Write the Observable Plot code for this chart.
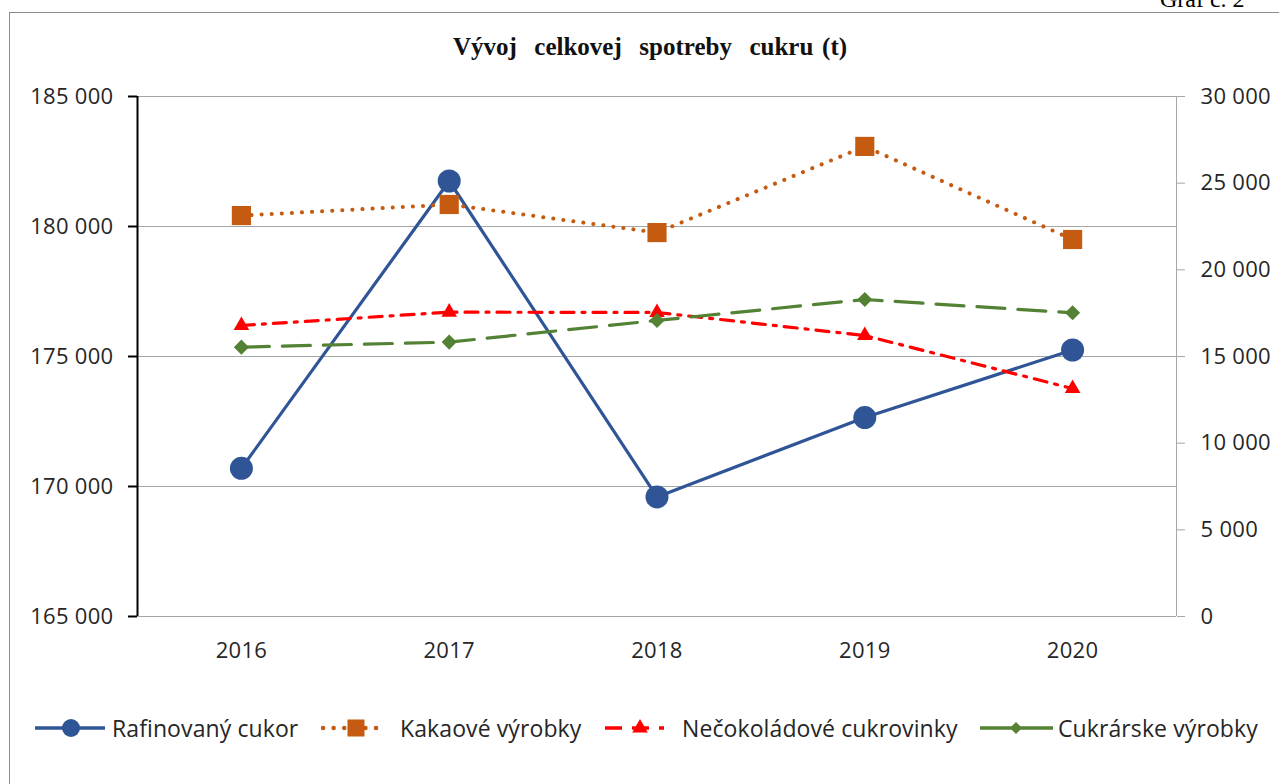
<!DOCTYPE html>
<html>
<head>
<meta charset="utf-8">
<script src="https://cdn.jsdelivr.net/npm/d3@7"></script>
<script src="https://cdn.jsdelivr.net/npm/@observablehq/plot@0.6"></script>
<style>
  html, body { margin: 0; padding: 0; width: 1279px; height: 784px; overflow: hidden; background: #fff; }
  #frame { position: absolute; left: 9px; top: 12px; width: 1400px; height: 900px; border: 1px solid #8c8c8c; box-sizing: border-box; }
  #graf { position: absolute; left: 1160px; top: -14px; font-family: "Liberation Serif", serif; font-size: 24px; color: #000; white-space: pre; }
  #title { position: absolute; left: 0; width: 1300px; top: 33px; text-align: center; font-family: "Liberation Serif", serif; font-weight: bold; font-size: 25px; word-spacing: 2.5px; white-space: pre; color: #111; }
  #chart { position: absolute; left: 0; top: 70px; }
  .legsym { position: absolute; top: 713px; }
  .legtxt { position: absolute; top: 713px; height: 30px; line-height: 30px; font-family: "Open Sans", sans-serif; font-size: 23px; letter-spacing: 0.1px; color: #262626; white-space: pre; }
</style>
</head>
<body>
<div id="frame"></div>
<div id="graf">Graf č. 2</div>
<div id="title">Vývoj  celkovej  spotreby  cukru (t)</div>
<div id="chart"></div>
<div id="legend"></div>
<script>
const years = [2016, 2017, 2018, 2019, 2020];
const rafinovany = [170700, 181750, 169600, 172650, 175250];
const kakaove = [23130, 23770, 22150, 27120, 21750];
const necokoladove = [16790, 17560, 17540, 16210, 13150];
const cukrarske = [15540, 15830, 17080, 18290, 17520];
const leftTicks = [165000, 170000, 175000, 180000, 185000];
const rightTicks = [0, 5000, 10000, 15000, 20000, 25000, 30000];
const seriesNames = ["Rafinovaný cukor", "Kakaové výrobky", "Nečokoládové cukrovinky", "Cukrárske výrobky"];

const leftMin = 165000, leftMax = 185000, rightMax = 30000;
const toLeft = v => leftMin + v * (leftMax - leftMin) / rightMax;
const fromLeft = d => Math.round((d - leftMin) * rightMax / (leftMax - leftMin));
const fmt = v => d3.format(",")(v).replace(/,/g, " ");

const raf = years.map((y, i) => ({year: y, v: rafinovany[i]}));
const kak = years.map((y, i) => ({year: y, v: toLeft(kakaove[i])}));
const nec = years.map((y, i) => ({year: y, v: toLeft(necokoladove[i])}));
const cuk = years.map((y, i) => ({year: y, v: toLeft(cukrarske[i])}));

const C = {blue: "#2F5597", orange: "#C55A11", red: "#FF0000", green: "#548235"};

const chart = Plot.plot({
  width: 1279,
  height: 620,
  marginTop: 26,
  marginBottom: 74,
  marginLeft: 137,
  marginRight: 103,
  style: {fontFamily: "Open Sans, sans-serif", fontSize: "22px", letterSpacing: "0.3px", color: "#262626", background: "transparent", overflow: "visible"},
  x: {domain: [2015.5, 2020.5], axis: null},
  y: {domain: [leftMin, leftMax], axis: null},
  marks: [
    Plot.ruleY(leftTicks, {stroke: "#a6a6a6", strokeWidth: 1}),
    Plot.ruleX([2020.5], {y1: leftMin, y2: leftMax, stroke: "#a6a6a6", strokeWidth: 1}),
    Plot.ruleX([2015.5], {y1: leftMin, y2: leftMax, stroke: "#000", strokeWidth: 2}),
    Plot.axisY(leftTicks, {anchor: "left", tickSize: 9, tickPadding: 15, stroke: "#000", strokeWidth: 2, tickFormat: fmt, label: null}),
    Plot.axisY(rightTicks.map(toLeft), {anchor: "right", tickSize: 8, tickPadding: 16, stroke: "#a6a6a6", tickFormat: d => fmt(fromLeft(d)), label: null}),
    Plot.axisX(years, {anchor: "bottom", tickSize: 0, tickPadding: 26, tickFormat: d => String(d), label: null}),
    Plot.line(raf, {x: "year", y: "v", stroke: C.blue, strokeWidth: 3.2}),
    Plot.dot(raf, {x: "year", y: "v", r: 11.5, symbol: "circle", fill: C.blue}),
    Plot.line(kak, {x: "year", y: "v", stroke: C.orange, strokeWidth: 4, strokeDasharray: "0.1 10", strokeLinecap: "round"}),
    Plot.dot(kak, {x: "year", y: "v", r: 10.8, symbol: "square", fill: C.orange}),
    Plot.line(nec, {x: "year", y: "v", stroke: C.red, strokeWidth: 3.2, strokeDasharray: "13 8 3 8"}),
    Plot.dot(nec, {x: "year", y: "v", r: 5.8, symbol: "triangle", fill: C.red}),
    Plot.line(cuk, {x: "year", y: "v", stroke: C.green, strokeWidth: 3.2, strokeDasharray: "28 13"}),
    Plot.dot(cuk, {x: "year", y: "v", r: 6.8, symbol: "diamond2", fill: C.green, stroke: "none"})
  ]
});
document.getElementById("chart").appendChild(chart);

// Legend
const legendItems = [
  {name: seriesNames[0], x1: 35, x2: 105, sx: 71, tx: 112, color: C.blue, dash: null, w: 3.4, sym: "circle", size: 9},
  {name: seriesNames[1], x1: 321, x2: 388, sx: 356, tx: 400, color: C.orange, dash: "0.1 10.5", w: 4.5, sym: "square", size: 9.6, cap: "round"},
  {name: seriesNames[2], x1: 605, x2: 664, sx: 640, tx: 682, color: C.red, dash: "17 10", w: 3.4, sym: "triangle", size: 5.8},
  {name: seriesNames[3], x1: 980, x2: 1053, sx: 1016, tx: 1058, color: C.green, dash: null, w: 3.4, sym: "diamond2", size: 5.4}
];
const symMap = {circle: d3.symbolCircle, square: d3.symbolSquare, triangle: d3.symbolTriangle, diamond2: d3.symbolDiamond2};
const legend = document.getElementById("legend");
for (const it of legendItems) {
  const path = d3.symbol(symMap[it.sym], Math.PI * it.size * it.size)();
  const s = document.createElement("div");
  s.className = "legsym";
  s.style.left = it.x1 + "px";
  const w = it.x2 - it.x1;
  s.innerHTML = `<svg width="${w}" height="30" viewBox="0 0 ${w} 30">
    <line x1="${it.cap ? 2 : 0}" x2="${w - (it.cap ? 2 : 0)}" y1="15" y2="15" stroke="${it.color}" stroke-width="${it.w}" ${it.dash ? `stroke-dasharray="${it.dash}"` : ""} ${it.cap ? `stroke-linecap="${it.cap}"` : ""}/>
    <path d="${path}" transform="translate(${it.sx - it.x1},15)" fill="${it.color}"/>
  </svg>`;
  legend.appendChild(s);
  const t = document.createElement("div");
  t.className = "legtxt";
  t.style.left = it.tx + "px";
  t.textContent = it.name;
  legend.appendChild(t);
}
</script>
</body>
</html>
